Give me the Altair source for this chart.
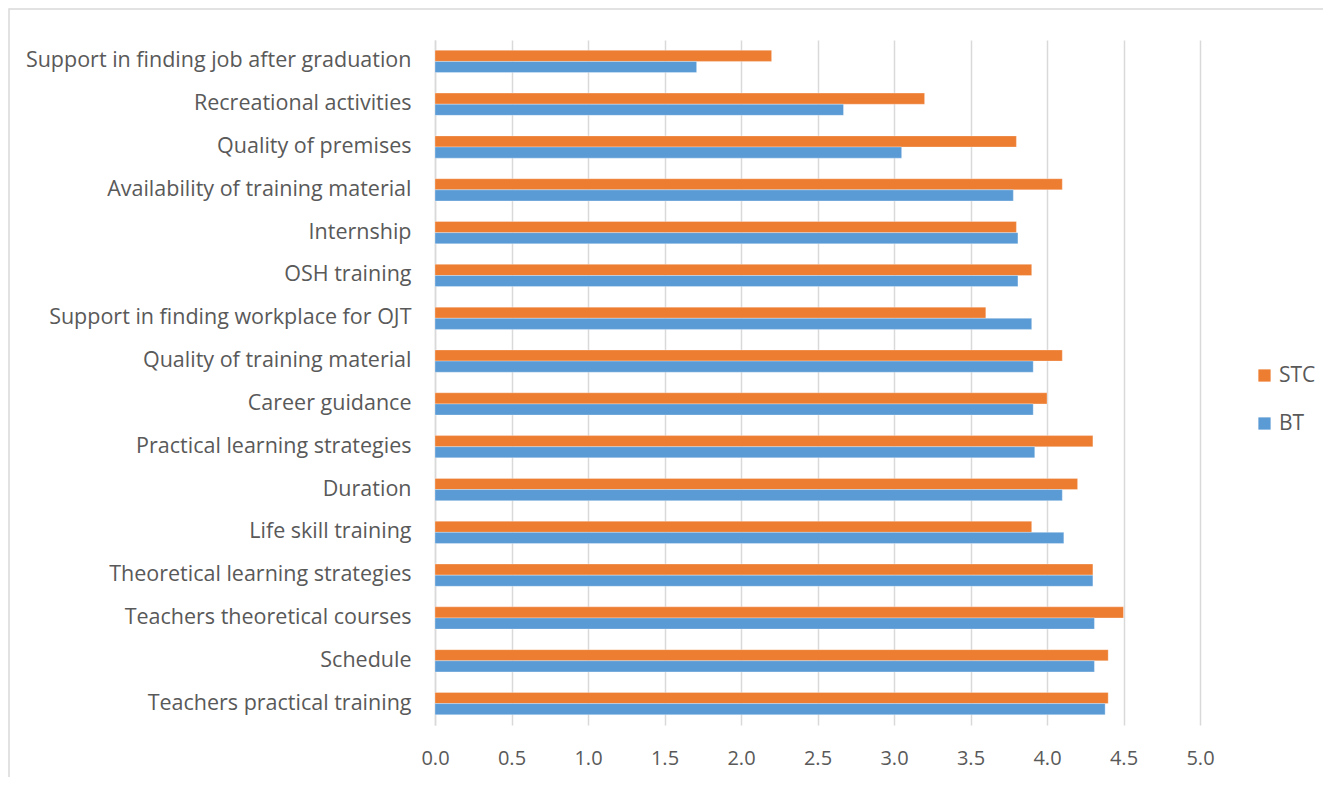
import altair as alt
import pandas as pd

categories = [
    "Support in finding job after graduation",
    "Recreational activities",
    "Quality of premises",
    "Availability of training material",
    "Internship",
    "OSH training",
    "Support in finding workplace for OJT",
    "Quality of training material",
    "Career guidance",
    "Practical learning strategies",
    "Duration",
    "Life skill training ",
    "Theoretical learning strategies",
    "Teachers theoretical courses ",
    "Schedule",
    "Teachers practical training",
]
stc = [2.2, 3.2, 3.8, 4.1, 3.8, 3.9, 3.6, 4.1, 4.0, 4.3, 4.2, 3.9, 4.3, 4.5, 4.4, 4.4]
bt = [1.71, 2.67, 3.05, 3.78, 3.81, 3.81, 3.9, 3.91, 3.91, 3.92, 4.1, 4.11, 4.3, 4.31, 4.31, 4.38]
series = ["STC", "BT"]
colors = ["#ED7D31", "#5B9BD5"]

rows = []
for c, s, b in zip(categories, stc, bt):
    rows.append({"category": c, "series": "STC", "value": s})
    rows.append({"category": c, "series": "BT", "value": b})
df = pd.DataFrame(rows)

FONT = "Open Sans"
GRAY = "#595959"

bars = alt.Chart(df).mark_bar(stroke="white", strokeWidth=0.6, strokeOpacity=0.5).encode(
    y=alt.Y(
        "category:N",
        sort=categories,
        title=None,
        scale=alt.Scale(paddingInner=0.48, paddingOuter=0.24),
        axis=alt.Axis(
            labelFont=FONT, labelFontSize=21.5, labelColor=GRAY, labelPadding=24,
            ticks=False, domainColor="#D9D9D9", domainWidth=1.5, labelLimit=500,
        ),
    ),
    yOffset=alt.YOffset("series:N", sort=series),
    x=alt.X(
        "value:Q",
        title=None,
        scale=alt.Scale(domain=[0, 5], nice=False),
        axis=alt.Axis(
            values=[0, 0.5, 1, 1.5, 2, 2.5, 3, 3.5, 4, 4.5, 5],
            format=".1f", labelFont=FONT, labelFontSize=20, labelColor=GRAY,
            labelPadding=23, labelFlush=False, ticks=False, domain=False,
            grid=True, gridColor="#D9D9D9", gridWidth=1.5,
        ),
    ),
    color=alt.Color(
        "series:N",
        sort=series,
        scale=alt.Scale(domain=series, range=colors),
        legend=alt.Legend(
            title=None, orient="none", legendX=819, legendY=325,
            symbolType="square", symbolSize=150, symbolStrokeWidth=0,
            labelFont=FONT, labelFontSize=21, labelColor=GRAY,
            rowPadding=26, labelOffset=4,
        ),
    ),
)

border = alt.Chart(pd.DataFrame({"k": [0]})).mark_rect(
    fill=None, stroke="#D9D9D9", strokeWidth=1.5
).encode(
    x=alt.value(-426), x2=alt.value(898), y=alt.value(-31), y2=alt.value(770)
)

chart = alt.layer(border, bars).properties(
    width=765, height=685,
    padding={"left": 427, "top": 32, "right": 123, "bottom": 52},
    autosize=alt.AutoSizeParams(type="none"),
    background="white",
).configure_view(stroke=None)

chart.save("out.html", embed_options={"renderer": "svg", "actions": False})
